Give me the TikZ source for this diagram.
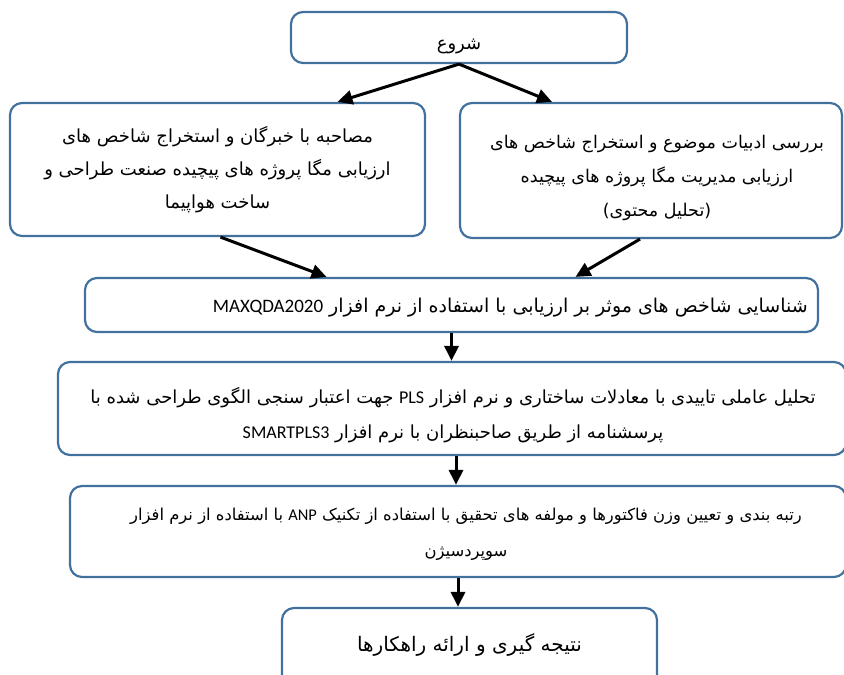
\documentclass[tikz,border=0pt]{standalone}
\usepackage{fontspec}
\usepackage{xcolor}
\usepackage{tikz}
\usetikzlibrary{arrows.meta}
\TeXXeTstate=1
\newfontfamily\arabicfont[Script=Arabic]{DejaVu Sans}
\newfontfamily\latinfont{Carlito}
\newcommand{\latword}[1]{\beginL{\latinfont #1}\endL}
\definecolor{boxblue}{RGB}{65,113,156}
\tikzstyle{stage} = [rectangle, rounded corners=12pt, draw=boxblue, line width=2.2pt, inner sep=0pt]
\tikzstyle{words} = [align=center, inner sep=0pt, font=\arabicfont\fontsize{18}{33}\selectfont]
\tikzstyle{arrow} = [line width=3pt, -{Triangle[length=15pt,width=14pt]}]

\begin{document}
\begin{tikzpicture}[x=1pt,y=1pt]
		\useasboundingbox (0,0) rectangle (844,675);
		\node (start) [stage, minimum width=336pt, minimum height=51pt] at (459,637.5) {};
		\node (starttext) [words] at (459,629) {\beginR شروع\endR};
		\node (expert) [stage, minimum width=415pt, minimum height=133pt] at (217.5,505.5) {};
		\node (experttext) [words] at (217.5,505.5) {\beginR مصاحبه با خبرگان و استخراج شاخص های\endR\\ \beginR ارزیابی مگا پروژه های پیچیده صنعت طراحی و\endR\\ \beginR ساخت هواپیما\endR};
		\node (review) [stage, minimum width=382pt, minimum height=135pt] at (651,504.5) {};
		\node (reviewtext) [words, font=\arabicfont\fontsize{17.5}{34}\selectfont] at (657,497.5) {\beginR بررسی ادبیات موضوع و استخراج شاخص های\endR\\ \beginR ارزیابی مدیریت مگا پروژه های پیچیده\endR\\ \beginR (تحلیل محتوی)\endR};
		\node (identify) [stage, minimum width=733pt, minimum height=54pt] at (451.5,370) {};
		\node (identifytext) [words, anchor=east, font=\arabicfont\fontsize{19}{33}\selectfont] at (808,367) {\beginR شناسایی شاخص های موثر بر ارزیابی با استفاده از نرم افزار \latword{MAXQDA2020}\endR};
		\node (cfa) [stage, minimum width=788pt, minimum height=93pt] at (452,266.5) {};
		\node (cfatext) [words, font=\arabicfont\fontsize{18}{35}\selectfont] at (453,259.5) {\beginR تحلیل عاملی تاییدی با معادلات ساختاری و نرم افزار \latword{PLS} جهت اعتبار سنجی الگوی طراحی شده با\endR\\ \beginR پرسشنامه از طریق صاحبنظران با نرم افزار \latword{SMARTPLS3}\endR};
		\node (rank) [stage, minimum width=776pt, minimum height=91pt] at (458,143.5) {};
		\node (ranktext) [words, font=\arabicfont\fontsize{16.4}{36}\selectfont] at (466,140.5) {\beginR رتبه بندی و تعیین وزن فاکتورها و مولفه های تحقیق با استفاده از تکنیک \latword{ANP} با استفاده از نرم افزار\endR\\ \beginR سوپردسیژن\endR};
		\node (final) [stage, minimum width=375pt, minimum height=82pt] at (469.5,26) {};
		\node (finaltext) [words, font=\arabicfont\fontsize{20}{24}\selectfont] at (469.5,30) {\beginR نتیجه گیری و ارائه راهکارها\endR};
		\draw [arrow] (start.south) -- ([xshift=120pt]expert.north);
		\draw [arrow] (start.south) -- ([xshift=-99pt]review.north);
		\draw [arrow] ([xshift=3pt]expert.south) -- ([xshift=-125pt]identify.north);
		\draw [arrow] ([xshift=-11pt]review.south) -- ([xshift=124pt]identify.north);
		\draw [arrow] (identify.south) -- (identify.south |- cfa.north);
		\draw [arrow] ([xshift=4pt]cfa.south) -- ([xshift=4pt]cfa.south |- rank.north);
		\draw [arrow] (rank.south) -- (rank.south |- final.north);
	\end{tikzpicture}
\end{document}
